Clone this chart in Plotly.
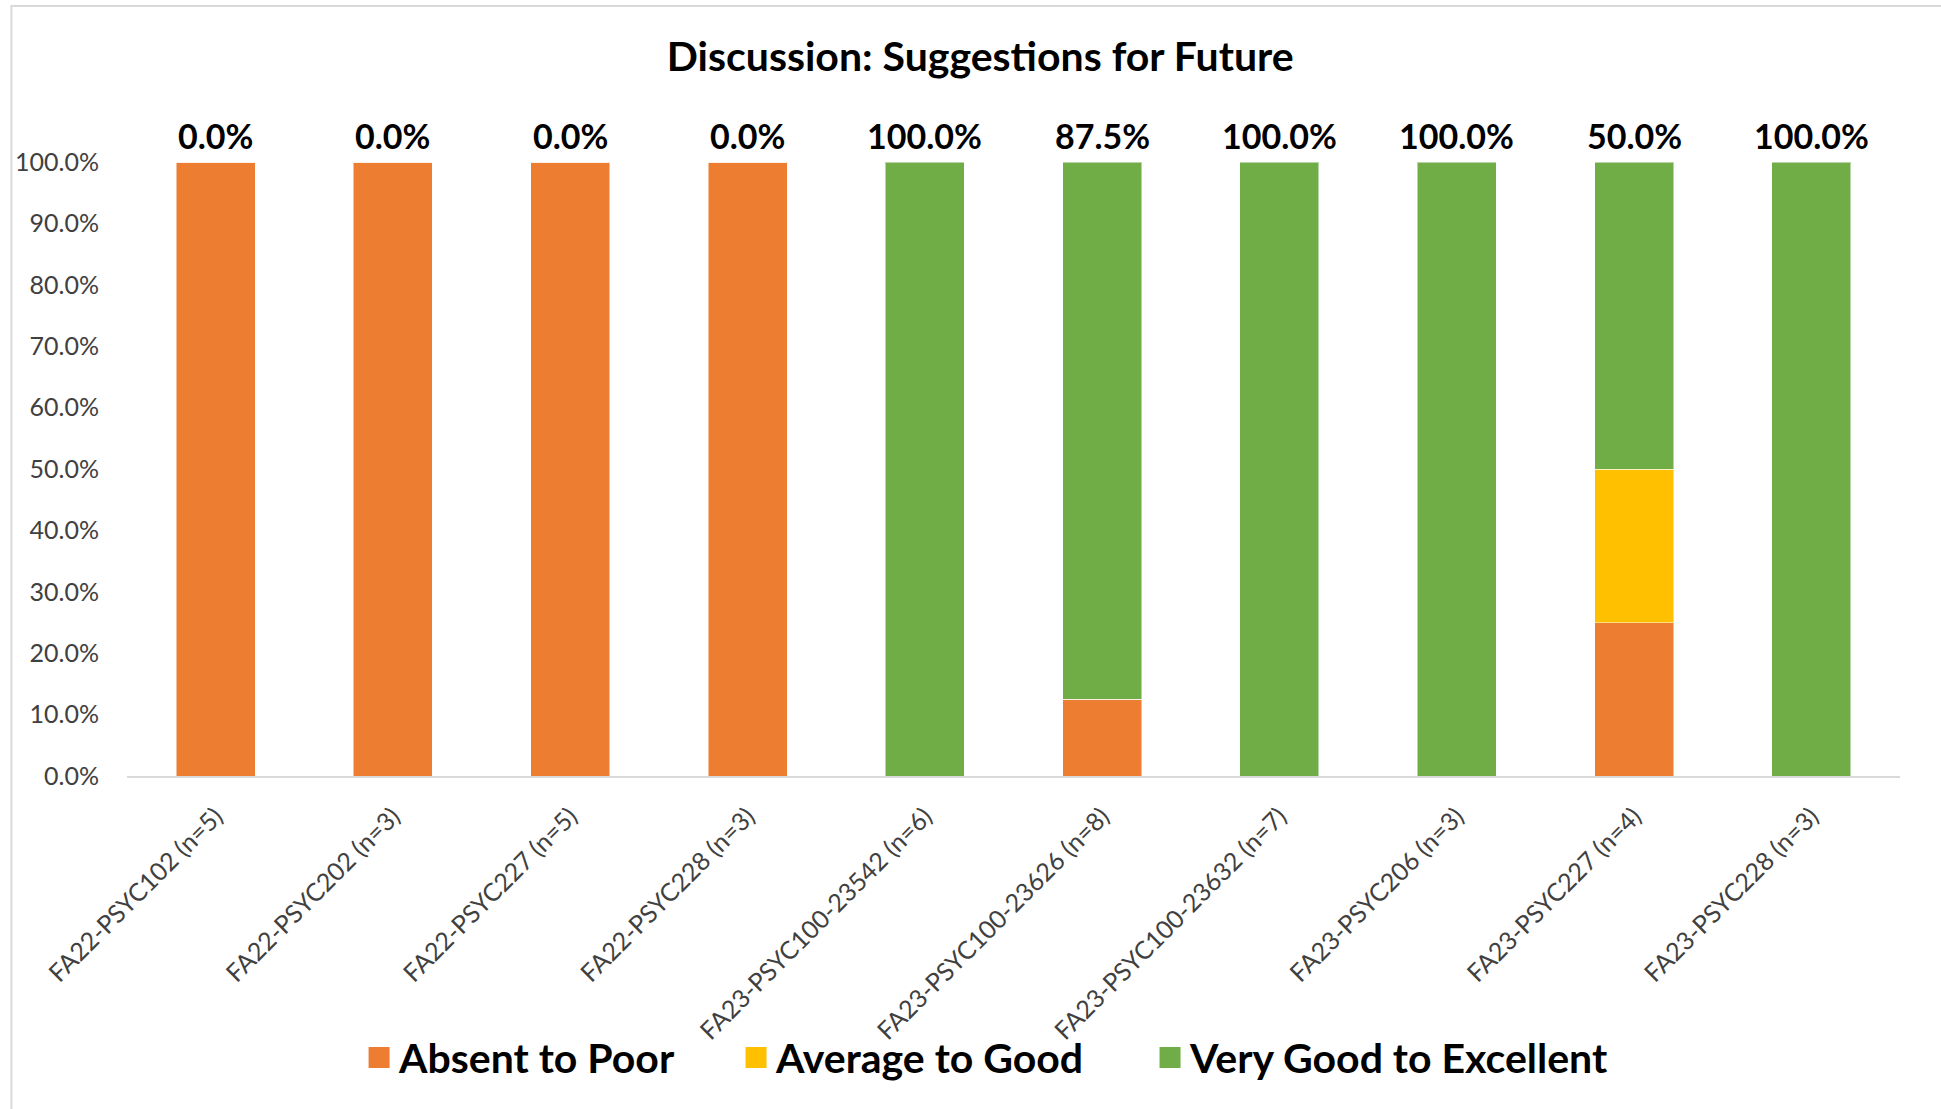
import plotly.graph_objects as go

categories = [
    "FA22-PSYC102 (n=5)", "FA22-PSYC202 (n=3)", "FA22-PSYC227 (n=5)",
    "FA22-PSYC228 (n=3)", "FA23-PSYC100-23542 (n=6)", "FA23-PSYC100-23626 (n=8)",
    "FA23-PSYC100-23632 (n=7)", "FA23-PSYC206 (n=3)", "FA23-PSYC227 (n=4)",
    "FA23-PSYC228 (n=3)",
]
absent_to_poor = [1.0, 1.0, 1.0, 1.0, 0.0, 0.125, 0.0, 0.0, 0.25, 0.0]
average_to_good = [0.0, 0.0, 0.0, 0.0, 0.0, 0.0, 0.0, 0.0, 0.25, 0.0]
very_good_to_excellent = [0.0, 0.0, 0.0, 0.0, 1.0, 0.875, 1.0, 1.0, 0.5, 1.0]

series_names = ["Absent to Poor", "Average to Good", "Very Good to Excellent"]
series_values = [absent_to_poor, average_to_good, very_good_to_excellent]
series_colors = ["#ED7D31", "#FFC000", "#70AD47"]

y_tick_values = [i / 10 for i in range(11)]
y_tick_labels = [f"{v*100:.1f}%" for v in y_tick_values]

title_text = "Discussion: Suggestions for Future"

FONT = "Lato"
legend_ids = ["legend", "legend2", "legend3"]
legend_x = [0.1850, 0.3792, 0.5925]

fig = go.Figure()
for name, vals, col, lid in zip(series_names, series_values, series_colors, legend_ids):
    fig.add_trace(go.Bar(
        x=categories, y=vals, name=name, marker_color=col,
        marker_line=dict(color="rgba(255,255,255,0.5)", width=1),
        showlegend=False,
    ))
    # legend entry
    fig.add_trace(go.Scatter(
        x=[None], y=[None], mode="markers", name=name, legend=lid,
        marker=dict(symbol="square", size=16, color=col,
                    line=dict(color=col, width=5)),
        showlegend=True,
    ))

totals = [a + b + c for a, b, c in zip(*series_values)]
for cat, tot, vg in zip(categories, totals, very_good_to_excellent):
    fig.add_annotation(
        x=cat, y=tot, text=f"{vg*100:.1f}%", showarrow=False,
        yanchor="bottom", yshift=4,
        font=dict(family=FONT, size=34, color="#000000", weight="bold"),
    )

# chart border (Excel chart area outline)
fig.add_shape(type="rect", xref="paper", yref="paper",
              x0=-0.0652, x1=1.05, y0=-0.56, y1=1.254,
              line=dict(color="#d9d9d9", width=2), fillcolor="rgba(0,0,0,0)",
              layer="below")

legend_style = dict(font=dict(family=FONT, size=41, color="#000000", weight="bold"),
                    bgcolor="rgba(0,0,0,0)", itemwidth=30,
                    orientation="h", xref="container", xanchor="left",
                    y=-0.459, yanchor="middle")

layout_legends = {lid: dict(x=lx, **legend_style) for lid, lx in zip(legend_ids, legend_x)}

fig.update_layout(
    barmode="stack",
    bargap=0.554,
    width=1941, height=1109,
    margin=dict(l=127, r=41, t=162, b=333, autoexpand=False),
    paper_bgcolor="white", plot_bgcolor="white",
    title=dict(text=title_text, x=0.505, xref="container", xanchor="center",
               y=1 - 57 / 1109, yref="container", yanchor="middle",
               font=dict(family=FONT, size=41, color="#000000", weight="bold")),
    font=dict(family=FONT),
    **layout_legends,
)
fig.update_xaxes(
    showline=True, linecolor="#d9d9d9", linewidth=2,
    showgrid=False, tickangle=-45, ticks="outside", ticklen=14,
    tickcolor="rgba(0,0,0,0)",
    tickfont=dict(family=FONT, size=25, color="#404040"),
)
fig.update_yaxes(
    range=[0, 1], tickvals=y_tick_values, ticktext=y_tick_labels,
    showgrid=False, zeroline=False, showline=False,
    ticks="outside", ticklen=22, tickcolor="rgba(0,0,0,0)",
    tickfont=dict(family=FONT, size=25, color="#404040"),
)

fig.write_html("out.html")
